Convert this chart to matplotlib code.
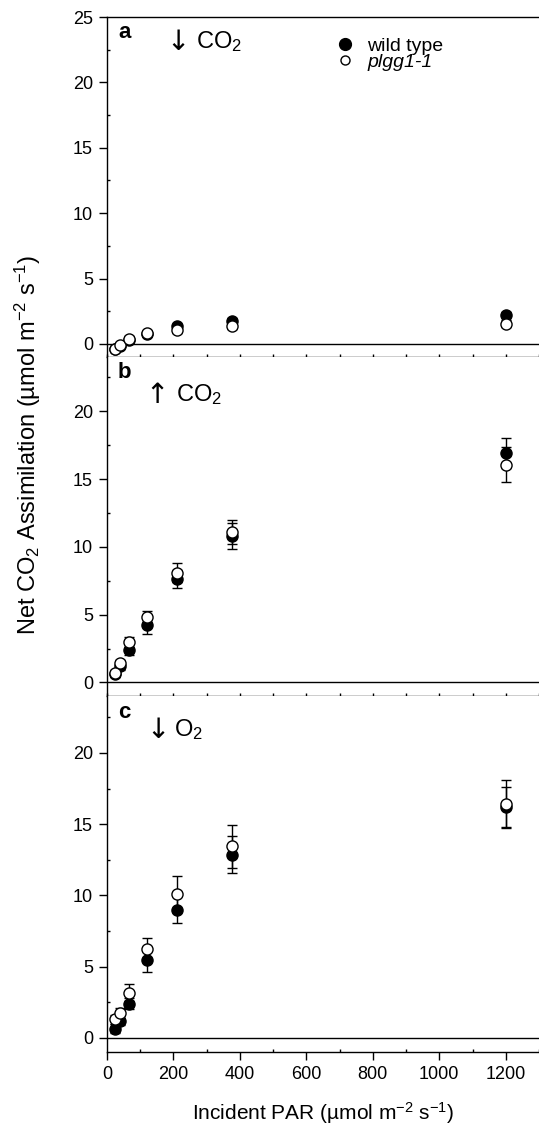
import matplotlib
matplotlib.use("Agg")
import matplotlib.pyplot as plt
from matplotlib.lines import Line2D
from matplotlib.ticker import MultipleLocator

plt.rcParams['font.family'] = ['Liberation Sans', 'DejaVu Sans']
plt.rcParams['mathtext.fontset'] = 'custom'
plt.rcParams['mathtext.rm'] = 'Liberation Sans'
plt.rcParams['mathtext.it'] = 'Liberation Sans:italic'
plt.rcParams['mathtext.default'] = 'regular'

# ---------------- data ----------------
par = [25, 40, 65, 120, 210, 375, 1200]

a_wt = [-0.4, -0.15, 0.3, 0.75, 1.35, 1.75, 2.25]
a_wt_err = [0.2, 0.15, 0.15, 0.15, 0.2, 0.2, 0.2]
a_mut = [-0.35, -0.1, 0.4, 0.8, 1.1, 1.4, 1.55]
a_mut_err = [0.2, 0.2, 0.2, 0.2, 0.25, 0.25, 0.25]

b_wt = [0.6, 1.2, 2.4, 4.2, 7.65, 10.8, 16.9]
b_wt_err = [0.2, 0.25, 0.4, 0.6, 0.65, 0.95, 1.1]
b_mut = [0.7, 1.4, 3.0, 4.85, 8.1, 11.1, 16.05]
b_mut_err = [0.2, 0.25, 0.35, 0.4, 0.7, 0.9, 1.3]

c_wt = [0.65, 1.2, 2.4, 5.45, 9.0, 12.85, 16.2]
c_wt_err = [0.3, 0.3, 0.4, 0.8, 0.95, 1.3, 1.4]
c_mut = [1.3, 1.75, 3.15, 6.2, 10.1, 13.45, 16.4]
c_mut_err = [0.3, 0.35, 0.6, 0.8, 1.25, 1.5, 1.7]

panel_labels = ['a', 'b', 'c']
arrows = ['\u2193', '\u2191', '\u2193']
gases = ['CO$_2$', 'CO$_2$', 'O$_2$']
series_labels = ['wild type', 'plgg1-1']
ylims = [(-1, 25), (-1, 24), (-1, 24)]

# ---------------- layout (pixels) ----------------
W, H = 539, 1127
fig = plt.figure(figsize=(W / 100, H / 100), dpi=100)
left_px, right_px = 107, 539
panel_px = [(17, 357), (357, 696), (696, 1052)]

data = [(a_wt, a_wt_err, a_mut, a_mut_err),
        (b_wt, b_wt_err, b_mut, b_mut_err),
        (c_wt, c_wt_err, c_mut, c_mut_err)]

# text anchor positions (pixels): arrow centre x, gas left x, centre y
txt_px = [(178, 196, 42), (157, 176, 395), (158, 174, 730)]

axes = []
for i, (top, bot) in enumerate(panel_px):
    ax = fig.add_axes([left_px / W, 1 - bot / H, (right_px - left_px) / W, (bot - top) / H])
    axes.append(ax)
    wt, wte, mu, mue = data[i]
    ax.axhline(0, color='black', lw=1.0, zorder=1)
    ax.errorbar(par, wt, yerr=wte, fmt='o', ms=8, mfc='black', mec='black', mew=1,
                ecolor='black', elinewidth=1, capsize=3.5, capthick=1, zorder=3)
    ax.errorbar(par, mu, yerr=mue, fmt='o', ms=8, mfc='white', mec='black', mew=1,
                ecolor='black', elinewidth=1, capsize=3.5, capthick=1, zorder=4)
    ax.set_xlim(0, 1300)
    ax.set_ylim(*ylims[i])
    ax.spines['right'].set_visible(False)
    for s in ['left', 'bottom', 'top']:
        ax.spines[s].set_linewidth(1.0)
    if i > 0:
        ax.spines['top'].set_visible(False)
    ax.yaxis.set_major_locator(MultipleLocator(5))
    ax.yaxis.set_minor_locator(MultipleLocator(2.5))
    ax.tick_params(axis='y', which='major', direction='out', length=6, width=1,
                   labelsize=13, pad=4)
    ax.tick_params(axis='y', which='minor', direction='in', length=2, width=1)
    ax.xaxis.set_major_locator(MultipleLocator(200))
    ax.xaxis.set_minor_locator(MultipleLocator(100))
    if i < 2:
        ax.tick_params(axis='x', which='both', direction='in', length=2, width=1,
                       labelbottom=False)
    else:
        ax.tick_params(axis='x', which='major', direction='out', length=6, width=1,
                       labelsize=13, pad=4)
        ax.tick_params(axis='x', which='minor', direction='in', length=2, width=1)
    ax.tick_params(axis='both', which='both', top=False, right=False)
    ph = bot - top
    ax.text(11 / 432, 1 - 16 / ph, panel_labels[i], transform=ax.transAxes,
            fontsize=16, fontweight='bold', ha='left', va='center')
    acx, gx, cy = txt_px[i]
    ax.text((acx - left_px) / 432, 1 - (cy - top) / ph, arrows[i],
            transform=ax.transAxes, fontsize=20, ha='center', va='center',
            family='DejaVu Sans')
    ax.text((gx - left_px) / 432, 1 - (cy - top) / ph, gases[i],
            transform=ax.transAxes, fontsize=17, ha='left', va='center')

# legend
handles = [Line2D([], [], marker='o', ls='none', ms=8.5, mfc='black', mec='black'),
           Line2D([], [], marker='o', ls='none', ms=6.5, mfc='white', mec='black')]
leg = axes[0].legend(handles, series_labels, loc='upper left',
                     bbox_to_anchor=((333 - 107) / 432, 1 - 20 / 340),
                     frameon=False, fontsize=14, handlelength=1.2,
                     handletextpad=0.55, labelspacing=-0.05, borderpad=0,
                     borderaxespad=0)
leg.get_texts()[1].set_fontstyle('italic')

fig.text(28 / W, 1 - 445 / H,
         'Net CO$_2$ Assimilation (\u00b5mol m$^{-2}$ s$^{-1}$)',
         rotation=90, ha='center', va='center', fontsize=17)
fig.text(323 / W, 1 - 1113 / H,
         'Incident PAR (\u00b5mol m$^{-2}$ s$^{-1}$)',
         ha='center', va='center', fontsize=15)

fig.savefig('out.png', dpi=100)
